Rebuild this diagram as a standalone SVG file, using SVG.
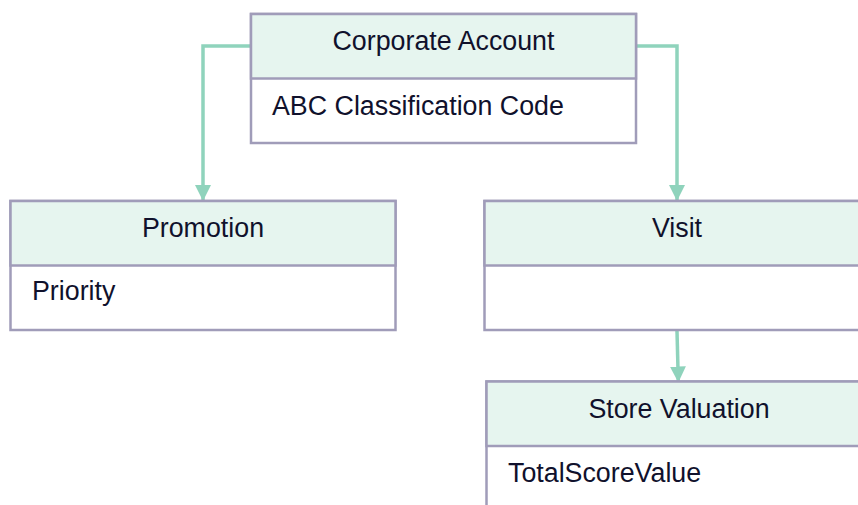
<svg xmlns="http://www.w3.org/2000/svg" width="858" height="505" viewBox="0 0 858 505">
<style>
.box{fill:#ffffff;stroke:#a09cb9;stroke-width:2.5}
.hdr{fill:#e6f5ef;stroke:#a09cb9;stroke-width:2.5}
.t{font-family:"Liberation Sans",Arial,sans-serif;font-size:26.8px;fill:#10112c}
.c{text-anchor:middle}
.conn{fill:none;stroke:#8fd3bc;stroke-width:3.5}
</style>
<defs>
<marker id="ah" markerUnits="userSpaceOnUse" markerWidth="16" markerHeight="16" viewBox="0 0 16 16" refX="15" refY="8" orient="auto">
<path d="M0,0 L16,8 L0,16 Z" fill="#8fd3bc"/>
</marker>
</defs>
<rect width="858" height="505" fill="#ffffff"/>
<g id="connectors">
<path class="conn" d="M250,46 H203 V200" marker-end="url(#ah)"/>
<path class="conn" d="M637,46 H677 V200" marker-end="url(#ah)"/>
<path class="conn" d="M677,331 L678.3,381.5" marker-end="url(#ah)"/>
</g>
<g id="corporate-account">
<rect class="box" x="251" y="14" width="385" height="129"/>
<rect class="hdr" x="251" y="14" width="385" height="64.5"/>
<text class="t c" x="443.5" y="50">Corporate Account</text>
<text class="t" x="272" y="115">ABC Classification Code</text>
</g>
<g id="promotion">
<rect class="box" x="10.5" y="201" width="385" height="129"/>
<rect class="hdr" x="10.5" y="201" width="385" height="64.5"/>
<text class="t c" x="203" y="237">Promotion</text>
<text class="t" x="32" y="300">Priority</text>
</g>
<g id="visit">
<rect class="box" x="484.5" y="201" width="385" height="129"/>
<rect class="hdr" x="484.5" y="201" width="385" height="64.5"/>
<text class="t c" x="677" y="237">Visit</text>
</g>
<g id="store-valuation">
<rect class="box" x="486.5" y="381.5" width="385" height="129"/>
<rect class="hdr" x="486.5" y="381.5" width="385" height="64.5"/>
<text class="t c" x="679" y="417.5">Store Valuation</text>
<text class="t" x="508" y="482">TotalScoreValue</text>
</g>
</svg>
